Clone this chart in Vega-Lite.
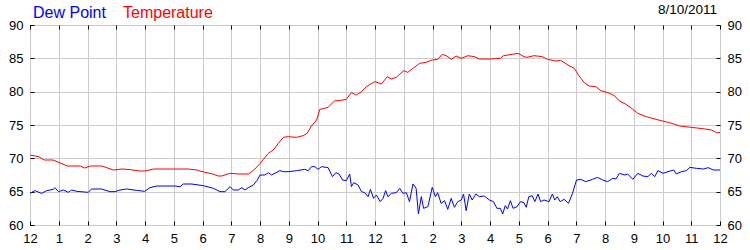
{
  "$schema": "https://vega.github.io/schema/vega-lite/v6.json",
  "width": 690,
  "height": 200,
  "autosize": {"type": "none"},
  "padding": {"left": 30, "top": 25, "right": 30, "bottom": 25},
  "background": "white",
  "title": {"text": "8/10/2011", "anchor": "end", "frame": "group", "fontSize": 13.5, "fontWeight": "normal", "font": "Liberation Sans", "color": "#000000", "offset": 0, "dy": 22, "dx": -3, "baseline": "alphabetic"},
  "config": {
    "view": {"stroke": "#000000", "strokeWidth": 1},
    "axis": {"labelFont": "Liberation Sans", "labelFontSize": 13, "labelColor": "#000000", "tickColor": "#000000", "domain": false, "title": null, "gridColor": "#cccccc", "gridOpacity": 1}
  },
  "data": {"values": [
    {"h":0,"s":"Temperature","v":70.5},{"h":0.3,"s":"Temperature","v":70.25},{"h":0.5,"s":"Temperature","v":69.75},{"h":0.8,"s":"Temperature","v":69.75},{"h":1.0,"s":"Temperature","v":69.4},{"h":1.3,"s":"Temperature","v":68.85},{"h":1.75,"s":"Temperature","v":68.85},{"h":1.9,"s":"Temperature","v":68.55},{"h":2.1,"s":"Temperature","v":68.85},{"h":2.5,"s":"Temperature","v":68.85},{"h":2.9,"s":"Temperature","v":68.25},{"h":3.2,"s":"Temperature","v":68.4},{"h":3.5,"s":"Temperature","v":68.3},{"h":3.8,"s":"Temperature","v":68.1},{"h":4.0,"s":"Temperature","v":68.1},{"h":4.3,"s":"Temperature","v":68.4},{"h":5.0,"s":"Temperature","v":68.4},{"h":5.5,"s":"Temperature","v":68.4},{"h":5.8,"s":"Temperature","v":68.25},{"h":5.9,"s":"Temperature","v":68.1},{"h":6.35,"s":"Temperature","v":67.65},{"h":6.55,"s":"Temperature","v":67.35},{"h":6.67,"s":"Temperature","v":67.35},{"h":6.95,"s":"Temperature","v":67.75},{"h":7.3,"s":"Temperature","v":67.65},{"h":7.6,"s":"Temperature","v":67.65},{"h":7.8,"s":"Temperature","v":68.3},{"h":8.0,"s":"Temperature","v":69.2},{"h":8.12,"s":"Temperature","v":69.85},{"h":8.29,"s":"Temperature","v":70.75},{"h":8.46,"s":"Temperature","v":71.25},{"h":8.64,"s":"Temperature","v":72.25},{"h":8.81,"s":"Temperature","v":73.15},{"h":8.98,"s":"Temperature","v":73.25},{"h":9.27,"s":"Temperature","v":73.15},{"h":9.5,"s":"Temperature","v":73.4},{"h":9.64,"s":"Temperature","v":73.75},{"h":9.79,"s":"Temperature","v":74.85},{"h":9.97,"s":"Temperature","v":75.75},{"h":10.08,"s":"Temperature","v":77.35},{"h":10.25,"s":"Temperature","v":77.5},{"h":10.37,"s":"Temperature","v":77.65},{"h":10.6,"s":"Temperature","v":78.65},{"h":10.77,"s":"Temperature","v":78.65},{"h":11.0,"s":"Temperature","v":78.85},{"h":11.18,"s":"Temperature","v":79.85},{"h":11.35,"s":"Temperature","v":79.5},{"h":11.53,"s":"Temperature","v":80.0},{"h":11.7,"s":"Temperature","v":80.75},{"h":11.99,"s":"Temperature","v":81.5},{"h":12.22,"s":"Temperature","v":81.15},{"h":12.43,"s":"Temperature","v":82.25},{"h":12.57,"s":"Temperature","v":81.9},{"h":12.74,"s":"Temperature","v":82.15},{"h":13.0,"s":"Temperature","v":83.15},{"h":13.14,"s":"Temperature","v":82.9},{"h":13.32,"s":"Temperature","v":83.5},{"h":13.55,"s":"Temperature","v":84.25},{"h":13.78,"s":"Temperature","v":84.4},{"h":13.99,"s":"Temperature","v":84.75},{"h":14.18,"s":"Temperature","v":84.85},{"h":14.34,"s":"Temperature","v":85.6},{"h":14.5,"s":"Temperature","v":85.35},{"h":14.65,"s":"Temperature","v":84.85},{"h":14.82,"s":"Temperature","v":85.35},{"h":15.0,"s":"Temperature","v":85.0},{"h":15.23,"s":"Temperature","v":85.4},{"h":15.46,"s":"Temperature","v":85.25},{"h":15.63,"s":"Temperature","v":84.9},{"h":16.0,"s":"Temperature","v":84.9},{"h":16.36,"s":"Temperature","v":85.0},{"h":16.47,"s":"Temperature","v":85.4},{"h":16.77,"s":"Temperature","v":85.6},{"h":16.98,"s":"Temperature","v":85.75},{"h":17.18,"s":"Temperature","v":85.25},{"h":17.29,"s":"Temperature","v":85.15},{"h":17.53,"s":"Temperature","v":85.4},{"h":17.82,"s":"Temperature","v":85.25},{"h":18.0,"s":"Temperature","v":84.85},{"h":18.29,"s":"Temperature","v":84.6},{"h":18.46,"s":"Temperature","v":84.7},{"h":18.75,"s":"Temperature","v":83.9},{"h":18.93,"s":"Temperature","v":83.5},{"h":19.1,"s":"Temperature","v":82.35},{"h":19.28,"s":"Temperature","v":81.35},{"h":19.45,"s":"Temperature","v":80.85},{"h":19.68,"s":"Temperature","v":80.75},{"h":19.86,"s":"Temperature","v":80.15},{"h":20.1,"s":"Temperature","v":79.85},{"h":20.33,"s":"Temperature","v":79.4},{"h":20.5,"s":"Temperature","v":78.6},{"h":20.73,"s":"Temperature","v":78.1},{"h":20.97,"s":"Temperature","v":77.35},{"h":21.14,"s":"Temperature","v":76.75},{"h":21.43,"s":"Temperature","v":76.25},{"h":21.78,"s":"Temperature","v":75.85},{"h":22.0,"s":"Temperature","v":75.6},{"h":22.25,"s":"Temperature","v":75.35},{"h":22.6,"s":"Temperature","v":74.85},{"h":23.0,"s":"Temperature","v":74.65},{"h":23.4,"s":"Temperature","v":74.45},{"h":23.7,"s":"Temperature","v":74.25},{"h":23.88,"s":"Temperature","v":73.85},{"h":24.0,"s":"Temperature","v":73.85},
    {"h":0,"s":"Dew Point","v":64.75},{"h":0.17,"s":"Dew Point","v":65.15},{"h":0.4,"s":"Dew Point","v":64.75},{"h":0.58,"s":"Dew Point","v":65.15},{"h":0.81,"s":"Dew Point","v":65.35},{"h":0.87,"s":"Dew Point","v":65.6},{"h":0.99,"s":"Dew Point","v":65.0},{"h":1.16,"s":"Dew Point","v":65.25},{"h":1.33,"s":"Dew Point","v":64.9},{"h":1.45,"s":"Dew Point","v":65.25},{"h":1.62,"s":"Dew Point","v":65.05},{"h":2.03,"s":"Dew Point","v":64.9},{"h":2.14,"s":"Dew Point","v":65.4},{"h":2.49,"s":"Dew Point","v":65.4},{"h":2.78,"s":"Dew Point","v":65.0},{"h":2.96,"s":"Dew Point","v":65.0},{"h":3.13,"s":"Dew Point","v":65.25},{"h":3.36,"s":"Dew Point","v":65.4},{"h":3.7,"s":"Dew Point","v":65.2},{"h":3.99,"s":"Dew Point","v":65.05},{"h":4.17,"s":"Dew Point","v":65.6},{"h":4.4,"s":"Dew Point","v":65.85},{"h":5.04,"s":"Dew Point","v":65.85},{"h":5.22,"s":"Dew Point","v":65.75},{"h":5.33,"s":"Dew Point","v":66.15},{"h":5.62,"s":"Dew Point","v":66.15},{"h":6.03,"s":"Dew Point","v":65.9},{"h":6.38,"s":"Dew Point","v":65.5},{"h":6.61,"s":"Dew Point","v":65.0},{"h":6.78,"s":"Dew Point","v":65.0},{"h":6.96,"s":"Dew Point","v":65.75},{"h":7.07,"s":"Dew Point","v":65.25},{"h":7.25,"s":"Dew Point","v":65.25},{"h":7.36,"s":"Dew Point","v":65.6},{"h":7.48,"s":"Dew Point","v":65.25},{"h":7.59,"s":"Dew Point","v":65.6},{"h":7.77,"s":"Dew Point","v":66.0},{"h":7.9,"s":"Dew Point","v":66.7},{"h":8.0,"s":"Dew Point","v":67.5},{"h":8.17,"s":"Dew Point","v":67.5},{"h":8.29,"s":"Dew Point","v":67.85},{"h":8.4,"s":"Dew Point","v":67.5},{"h":8.69,"s":"Dew Point","v":68.15},{"h":8.81,"s":"Dew Point","v":68.0},{"h":9.02,"s":"Dew Point","v":68.0},{"h":9.27,"s":"Dew Point","v":68.15},{"h":9.56,"s":"Dew Point","v":68.35},{"h":9.68,"s":"Dew Point","v":68.15},{"h":9.79,"s":"Dew Point","v":68.75},{"h":9.91,"s":"Dew Point","v":68.75},{"h":10.02,"s":"Dew Point","v":68.35},{"h":10.14,"s":"Dew Point","v":68.75},{"h":10.37,"s":"Dew Point","v":68.6},{"h":10.52,"s":"Dew Point","v":67.25},{"h":10.64,"s":"Dew Point","v":67.85},{"h":10.75,"s":"Dew Point","v":67.65},{"h":10.87,"s":"Dew Point","v":66.75},{"h":11.0,"s":"Dew Point","v":66.65},{"h":11.12,"s":"Dew Point","v":67.65},{"h":11.18,"s":"Dew Point","v":65.75},{"h":11.26,"s":"Dew Point","v":66.35},{"h":11.41,"s":"Dew Point","v":66.0},{"h":11.53,"s":"Dew Point","v":65.0},{"h":11.64,"s":"Dew Point","v":64.85},{"h":11.76,"s":"Dew Point","v":64.25},{"h":11.84,"s":"Dew Point","v":65.35},{"h":11.95,"s":"Dew Point","v":64.0},{"h":12.05,"s":"Dew Point","v":64.5},{"h":12.18,"s":"Dew Point","v":63.5},{"h":12.28,"s":"Dew Point","v":64.0},{"h":12.37,"s":"Dew Point","v":65.15},{"h":12.45,"s":"Dew Point","v":64.25},{"h":12.57,"s":"Dew Point","v":64.75},{"h":12.74,"s":"Dew Point","v":64.85},{"h":12.86,"s":"Dew Point","v":65.5},{"h":12.97,"s":"Dew Point","v":64.75},{"h":13.09,"s":"Dew Point","v":64.85},{"h":13.2,"s":"Dew Point","v":63.5},{"h":13.32,"s":"Dew Point","v":66.15},{"h":13.43,"s":"Dew Point","v":65.5},{"h":13.51,"s":"Dew Point","v":61.65},{"h":13.61,"s":"Dew Point","v":64.25},{"h":13.69,"s":"Dew Point","v":62.5},{"h":13.84,"s":"Dew Point","v":62.75},{"h":13.99,"s":"Dew Point","v":65.65},{"h":14.1,"s":"Dew Point","v":64.25},{"h":14.18,"s":"Dew Point","v":64.85},{"h":14.3,"s":"Dew Point","v":63.25},{"h":14.42,"s":"Dew Point","v":63.65},{"h":14.53,"s":"Dew Point","v":62.35},{"h":14.65,"s":"Dew Point","v":64.0},{"h":14.76,"s":"Dew Point","v":62.65},{"h":14.88,"s":"Dew Point","v":63.5},{"h":15.0,"s":"Dew Point","v":63.75},{"h":15.08,"s":"Dew Point","v":64.65},{"h":15.17,"s":"Dew Point","v":62.15},{"h":15.28,"s":"Dew Point","v":64.65},{"h":15.38,"s":"Dew Point","v":63.75},{"h":15.51,"s":"Dew Point","v":64.65},{"h":15.63,"s":"Dew Point","v":64.25},{"h":15.8,"s":"Dew Point","v":64.35},{"h":15.98,"s":"Dew Point","v":63.75},{"h":16.12,"s":"Dew Point","v":63.5},{"h":16.24,"s":"Dew Point","v":62.5},{"h":16.36,"s":"Dew Point","v":62.5},{"h":16.44,"s":"Dew Point","v":61.65},{"h":16.53,"s":"Dew Point","v":62.9},{"h":16.61,"s":"Dew Point","v":62.4},{"h":16.71,"s":"Dew Point","v":63.65},{"h":16.8,"s":"Dew Point","v":62.5},{"h":16.94,"s":"Dew Point","v":62.75},{"h":17.06,"s":"Dew Point","v":63.5},{"h":17.18,"s":"Dew Point","v":63.35},{"h":17.26,"s":"Dew Point","v":62.65},{"h":17.35,"s":"Dew Point","v":64.25},{"h":17.47,"s":"Dew Point","v":64.4},{"h":17.56,"s":"Dew Point","v":63.5},{"h":17.67,"s":"Dew Point","v":64.65},{"h":17.76,"s":"Dew Point","v":63.5},{"h":17.88,"s":"Dew Point","v":63.75},{"h":18.05,"s":"Dew Point","v":63.5},{"h":18.17,"s":"Dew Point","v":64.65},{"h":18.25,"s":"Dew Point","v":63.75},{"h":18.34,"s":"Dew Point","v":64.25},{"h":18.44,"s":"Dew Point","v":63.5},{"h":18.58,"s":"Dew Point","v":63.85},{"h":18.73,"s":"Dew Point","v":63.25},{"h":18.87,"s":"Dew Point","v":64.75},{"h":19.01,"s":"Dew Point","v":66.75},{"h":19.16,"s":"Dew Point","v":66.85},{"h":19.33,"s":"Dew Point","v":66.5},{"h":19.57,"s":"Dew Point","v":66.85},{"h":19.74,"s":"Dew Point","v":67.15},{"h":19.92,"s":"Dew Point","v":66.75},{"h":20.09,"s":"Dew Point","v":66.5},{"h":20.27,"s":"Dew Point","v":67.0},{"h":20.38,"s":"Dew Point","v":66.9},{"h":20.5,"s":"Dew Point","v":67.75},{"h":20.68,"s":"Dew Point","v":67.5},{"h":20.79,"s":"Dew Point","v":67.65},{"h":20.97,"s":"Dew Point","v":66.85},{"h":21.14,"s":"Dew Point","v":67.75},{"h":21.32,"s":"Dew Point","v":67.35},{"h":21.49,"s":"Dew Point","v":67.25},{"h":21.61,"s":"Dew Point","v":67.75},{"h":21.73,"s":"Dew Point","v":67.25},{"h":21.84,"s":"Dew Point","v":68.15},{"h":22.02,"s":"Dew Point","v":67.75},{"h":22.19,"s":"Dew Point","v":68.0},{"h":22.39,"s":"Dew Point","v":68.25},{"h":22.48,"s":"Dew Point","v":67.65},{"h":22.66,"s":"Dew Point","v":68.0},{"h":22.83,"s":"Dew Point","v":68.15},{"h":22.95,"s":"Dew Point","v":68.65},{"h":23.18,"s":"Dew Point","v":68.5},{"h":23.42,"s":"Dew Point","v":68.4},{"h":23.59,"s":"Dew Point","v":68.6},{"h":23.77,"s":"Dew Point","v":68.25},{"h":24.0,"s":"Dew Point","v":68.25}
  ]},
  "layer": [
    {
      "mark": {"type": "line", "strokeWidth": 1, "interpolate": "linear"},
      "encoding": {
        "x": {"field": "h", "type": "quantitative", "scale": {"domain": [0, 24], "nice": false, "zero": false},
              "axis": {"orient": "bottom", "values": [0,1,2,3,4,5,6,7,8,9,10,11,12,13,14,15,16,17,18,19,20,21,22,23,24], "grid": true, "tickSize": -4, "labelPadding": 11, "labelExpr": "datum.value % 12 == 0 ? '12' : '' + (datum.value % 12)", "labelFlush": false}},
        "y": {"field": "v", "type": "quantitative", "scale": {"domain": [60, 90], "nice": false, "zero": false},
              "axis": {"orient": "left", "values": [60,65,70,75,80,85,90], "grid": true, "tickSize": -4, "labelPadding": 11, "labelFlush": false}},
        "color": {"field": "s", "type": "nominal", "scale": {"domain": ["Dew Point", "Temperature"], "range": ["#0000ff", "#ff0000"]},
                  "legend": {"orient": "none", "legendX": -13, "legendY": -20, "padding": 0, "direction": "horizontal", "title": null, "symbolType": "square", "symbolSize": 1, "symbolStrokeWidth": 0, "symbolOpacity": 0, "labelOffset": 0, "labelFontSize": 16, "labelFont": "Liberation Sans", "columnPadding": 1, "labelColor": {"expr": "datum.label == 'Dew Point' ? '#0000ff' : '#ff0000'"}}}
      }
    },
    {
      "mark": {"type": "line", "opacity": 0},
      "encoding": {
        "x": {"field": "h", "type": "quantitative", "axis": {"orient": "top", "values": [0,1,2,3,4,5,6,7,8,9,10,11,12,13,14,15,16,17,18,19,20,21,22,23,24], "grid": false, "labels": false, "tickSize": -4}},
        "y": {"field": "v", "type": "quantitative", "axis": {"orient": "right", "values": [60,65,70,75,80,85,90], "grid": false, "tickSize": -4, "labelPadding": 11, "labelFlush": false}},
        "detail": {"field": "s"}
      }
    }
  ],
  "resolve": {"axis": {"x": "independent", "y": "independent"}}
}
